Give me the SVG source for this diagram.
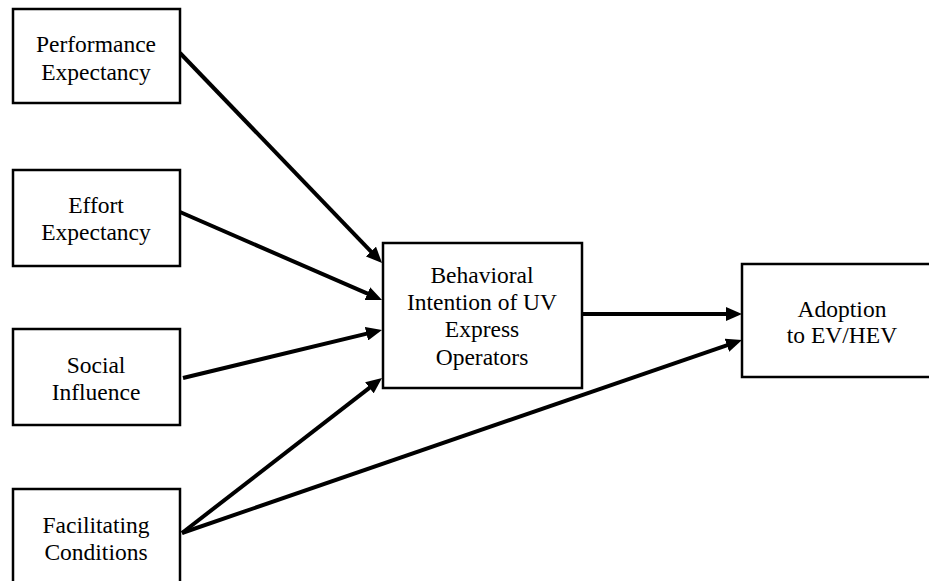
<svg xmlns="http://www.w3.org/2000/svg" width="929" height="581" viewBox="0 0 929 581">
  <style>
    .box { fill: #ffffff; stroke: #000000; stroke-width: 2.5; }
    .lbl { font-family: "Liberation Serif", "Times New Roman", serif; font-size: 23.5px; fill: #000000; text-anchor: middle; }
    .link { stroke: #000000; stroke-width: 4; fill: none; marker-end: url(#head); }
  </style>
  <defs>
    <marker id="head" viewBox="0 0 16 14" refX="9" refY="7" markerWidth="16" markerHeight="14" markerUnits="userSpaceOnUse" orient="auto">
      <path d="M0,0 L16,7 L0,14 z" fill="#000000"/>
    </marker>
  </defs>
  <rect x="0" y="0" width="929" height="581" fill="#ffffff"/>

  <!-- arrows between the constructs -->
  <g id="connectors">
    <path class="link" d="M180,53 L377.2,258"/>
    <path class="link" d="M180,212 L375.6,297.2"/>
    <path class="link" d="M183,378 L375.2,331.6"/>
    <path class="link" d="M182,533 L376.5,382.3"/>
    <path class="link" d="M182,533 L735.4,342.3"/>
    <path class="link" d="M582,314 L735,314"/>
  </g>

  <g id="performance-expectancy">
    <rect class="box" x="13" y="9" width="167" height="94"/>
    <text class="lbl" x="96" y="52">Performance</text>
    <text class="lbl" x="96" y="80">Expectancy</text>
  </g>

  <g id="effort-expectancy">
    <rect class="box" x="13" y="170" width="167" height="96"/>
    <text class="lbl" x="96" y="213">Effort</text>
    <text class="lbl" x="96" y="240">Expectancy</text>
  </g>

  <g id="social-influence">
    <rect class="box" x="13" y="329" width="167" height="96"/>
    <text class="lbl" x="96" y="373">Social</text>
    <text class="lbl" x="96" y="400">Influence</text>
  </g>

  <g id="facilitating-conditions">
    <rect class="box" x="13" y="489" width="167" height="100"/>
    <text class="lbl" x="96" y="533">Facilitating</text>
    <text class="lbl" x="96" y="560">Conditions</text>
  </g>

  <g id="behavioral-intention">
    <rect class="box" x="383" y="243" width="199" height="145"/>
    <text class="lbl" x="482" y="283">Behavioral</text>
    <text class="lbl" x="482" y="310">Intention of UV</text>
    <text class="lbl" x="482" y="337">Express</text>
    <text class="lbl" x="482" y="365">Operators</text>
  </g>

  <g id="adoption">
    <rect class="box" x="742" y="264" width="200" height="113"/>
    <text class="lbl" x="842" y="317">Adoption</text>
    <text class="lbl" x="842" y="343">to EV/HEV</text>
  </g>
</svg>
